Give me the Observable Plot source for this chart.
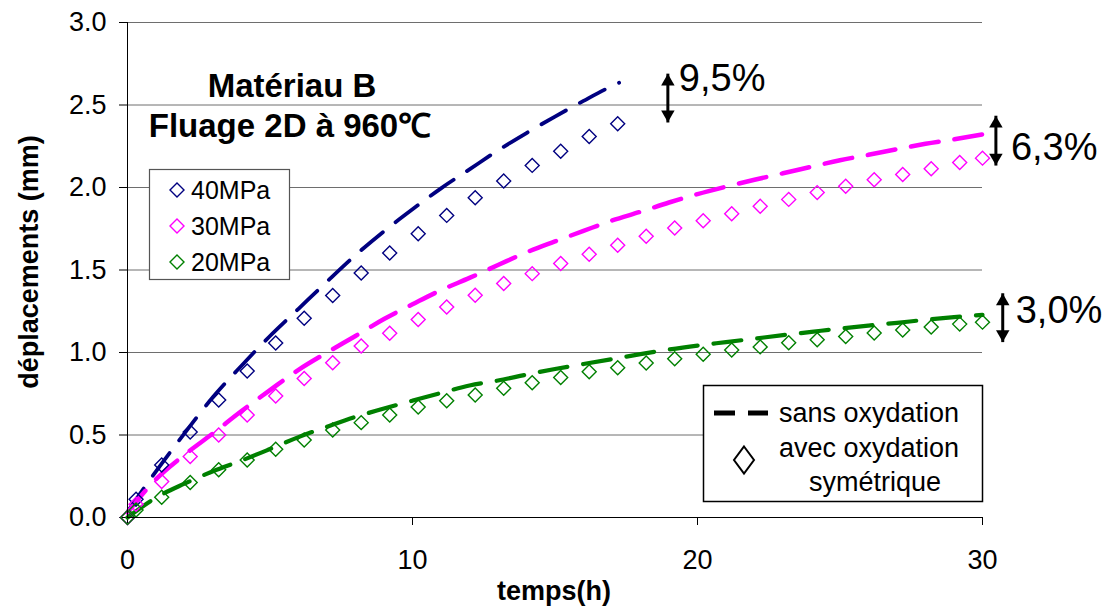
<!DOCTYPE html>
<html>
<head>
<meta charset="utf-8">
<script src="https://cdn.jsdelivr.net/npm/d3@7"></script>
<script src="https://cdn.jsdelivr.net/npm/@observablehq/plot@0.6"></script>
<style>
  body { margin: 0; background: white; }
  #chart { width: 1114px; height: 608px; }
</style>
</head>
<body>
<div id="chart"></div>
<script>
// ---------- data ----------
const seriesLabels = ["40MPa", "30MPa", "20MPa"];
const seriesColors = ["#000080", "#ff00ff", "#008000"];

// measured points (avec oxydation symétrique) — hours
const obsTime40 = [0, 0.3, 1.2, 2.2, 3.2, 4.2, 5.2, 6.2, 7.2, 8.2, 9.2, 10.2, 11.2, 12.2, 13.2, 14.2, 15.2, 16.2, 17.2];
const obs40 = [0, 0.11, 0.318, 0.518, 0.712, 0.888, 1.057, 1.208, 1.346, 1.482, 1.603, 1.720, 1.831, 1.938, 2.039, 2.134, 2.220, 2.309, 2.386];

const obsTime = [0, 0.3, 1.2, 2.2, 3.2, 4.2, 5.2, 6.2, 7.2, 8.2, 9.2, 10.2, 11.2, 12.2, 13.2, 14.2, 15.2, 16.2, 17.2, 18.2, 19.2, 20.2, 21.2, 22.2, 23.2, 24.2, 25.2, 26.2, 27.2, 28.2, 29.2, 30];
const obs30 = [0, 0.08, 0.218, 0.369, 0.500, 0.621, 0.736, 0.843, 0.938, 1.040, 1.117, 1.200, 1.276, 1.347, 1.418, 1.478, 1.539, 1.595, 1.650, 1.704, 1.754, 1.799, 1.841, 1.886, 1.928, 1.969, 2.007, 2.047, 2.079, 2.114, 2.152, 2.178];
const obs20 = [0, 0.045, 0.123, 0.212, 0.289, 0.349, 0.414, 0.470, 0.530, 0.575, 0.621, 0.670, 0.708, 0.742, 0.783, 0.817, 0.849, 0.883, 0.907, 0.936, 0.962, 0.990, 1.015, 1.034, 1.059, 1.077, 1.097, 1.118, 1.137, 1.154, 1.172, 1.184];

// model curves (sans oxydation)
const modelTime40 = [0, 1, 2, 3, 4, 5, 6, 7, 8, 9, 10, 11, 12, 13, 14, 15, 16, 17, 17.25];
const model40 = [0.035, 0.28, 0.51, 0.73, 0.92, 1.10, 1.265, 1.43, 1.59, 1.735, 1.868, 1.995, 2.11, 2.225, 2.33, 2.43, 2.525, 2.615, 2.635];
const modelTime = [0, 1, 2, 3, 4, 5, 6, 7, 8, 9, 10, 11, 12, 13, 14, 15, 16, 17, 18, 19, 20, 21, 22, 23, 24, 25, 26, 27, 28, 29, 30];
const model30 = [0.03, 0.232, 0.38, 0.51, 0.645, 0.772, 0.895, 1.0, 1.10, 1.203, 1.292, 1.378, 1.452, 1.53, 1.607, 1.673, 1.737, 1.80, 1.853, 1.909, 1.96, 2.005, 2.047, 2.086, 2.126, 2.165, 2.198, 2.232, 2.265, 2.292, 2.322];
const model20 = [0, 0.12, 0.205, 0.28, 0.345, 0.415, 0.487, 0.55, 0.61, 0.66, 0.708, 0.755, 0.80, 0.83, 0.866, 0.90, 0.93, 0.96, 0.99, 1.018, 1.042, 1.063, 1.084, 1.105, 1.125, 1.145, 1.163, 1.18, 1.198, 1.214, 1.228];

// axes
const xTicks = [0, 10, 20, 30];
const yTicks = [0, 0.5, 1.0, 1.5, 2.0, 2.5, 3.0];

// gap annotations (arrow x, arrow ends, label anchor)
const gapLabels = ["9,5%", "6,3%", "3,0%"];
const gapX = [18.96, 30.47, 30.71];
const gapTop = [2.69, 2.435, 1.359];
const gapBottom = [2.394, 2.133, 1.063];
const gapTextY = [2.661, 2.238, 1.252];
const gapTextDx = [11, 15, 13];

// texts
const titleLines = ["Matériau B", "Fluage 2D à 960℃"];
const xLabel = "temps(h)";
const yLabel = "déplacements (mm)";
const legendModel = "sans oxydation";
const legendObs = ["avec oxydation", "symétrique"];

// ---------- build tables ----------
const zip = (ts, vs) => ts.map((t, i) => ({t, v: vs[i]}));
const obsData = [zip(obsTime40, obs40), zip(obsTime, obs30), zip(obsTime, obs20)];
const modelData = [zip(modelTime40, model40), zip(modelTime, model30), zip(modelTime, model20)];
const gaps = gapLabels.map((label, i) => ({label, x: gapX[i], top: gapTop[i], bottom: gapBottom[i], ty: gapTextY[i]}));

const FONT = "'Liberation Sans', Arial, Helvetica, sans-serif";
const lineWidths = [3.8, 4.5, 4.2];

const marks = [
  Plot.ruleY(yTicks.filter(d => d > 0), {stroke: "#6e6e6e", strokeWidth: 1}),
];
modelData.forEach((d, i) => {
  marks.push(Plot.line(d, {x: "t", y: "v", stroke: seriesColors[i], strokeWidth: lineWidths[i],
    strokeDasharray: "28,16", curve: "monotone-x"}));
});
obsData.forEach((d, i) => {
  marks.push(Plot.dot(d, {x: "t", y: "v", symbol: "diamond2", r: 6.3, stroke: seriesColors[i],
    strokeWidth: 1.4, fill: "none"}));
});
marks.push(
  Plot.ruleX([0], {stroke: "black", strokeWidth: 1}),
  Plot.ruleY([0], {stroke: "black", strokeWidth: 1}),
  Plot.link(gaps, {x1: "x", x2: "x", y1: "bottom", y2: "top", stroke: "black", strokeWidth: 3, insetTop: 8, insetBottom: 8}),
  Plot.dot(gaps, {x: "x", y: "top", symbol: "triangle", r: 5, fill: "black", stroke: "none", dy: 8}),
  Plot.dot(gaps, {x: "x", y: "bottom", symbol: "triangle", r: 5, fill: "black", stroke: "none", dy: -8, rotate: 180}),
  Plot.text(gaps, {x: "x", y: "ty", text: "label", textAnchor: "start", fontSize: 38, fill: "black"})
);

const chart = Plot.plot({
  width: 1114,
  height: 608,
  marginLeft: 127,
  marginRight: 132,
  marginTop: 22,
  marginBottom: 91,
  style: {fontFamily: FONT, fontSize: "27px", color: "black", background: "white", overflow: "visible"},
  x: {domain: [0, 30], ticks: xTicks, tickSize: 8, tickPadding: 24, label: null, tickFormat: d => String(d)},
  y: {domain: [0, 3], ticks: yTicks, tickSize: 8, tickPadding: 13, label: null, tickFormat: d => d.toFixed(1)},
  marks
});
document.getElementById("chart").appendChild(chart);

// shift gap labels right of their arrows
d3.select(chart).selectAll("text").filter(function() { return gapLabels.includes(this.textContent); })
  .each(function() {
    const i = gapLabels.indexOf(this.textContent);
    d3.select(this).attr("dx", gapTextDx[i]);
  });

// ---------- overlay texts & legends ----------
const svg = d3.select(chart);
const g = svg.append("g").attr("font-family", FONT).attr("fill", "black").attr("text-anchor", "start");

// titles
g.append("text").attr("x", 292).attr("y", 97).attr("text-anchor", "middle")
  .attr("font-size", 33).attr("font-weight", "bold").text(titleLines[0]);
g.append("text").attr("x", 290).attr("y", 137).attr("text-anchor", "middle")
  .attr("font-size", 33).attr("font-weight", "bold").text(titleLines[1]);

// axis titles
g.append("text").attr("transform", "translate(38,262) rotate(-90)").attr("text-anchor", "middle")
  .attr("font-size", 27).attr("font-weight", "bold").text(yLabel);
g.append("text").attr("x", 554).attr("y", 600).attr("text-anchor", "middle")
  .attr("font-size", 27).attr("font-weight", "bold").text(xLabel);

// legend 1 (series)
g.append("rect").attr("x", 149.5).attr("y", 169.5).attr("width", 140).attr("height", 110)
  .attr("fill", "white").attr("stroke", "#555").attr("stroke-width", 1.2);
seriesLabels.forEach((lab, i) => {
  const cy = 190 + i * 36, cx = 177, h = 7;
  g.append("path").attr("d", `M${cx},${cy - h}L${cx + h},${cy}L${cx},${cy + h}L${cx - h},${cy}Z`)
    .attr("fill", "none").attr("stroke", seriesColors[i]).attr("stroke-width", 1.4);
  g.append("text").attr("x", 191).attr("y", cy).attr("dy", "0.36em").attr("text-anchor", "start")
    .attr("font-size", 25).text(lab);
});

// legend 2 (line style)
g.append("rect").attr("x", 703.5).attr("y", 385.5).attr("width", 279).attr("height", 116)
  .attr("fill", "white").attr("stroke", "black").attr("stroke-width", 1.5);
g.append("line").attr("x1", 714).attr("x2", 768).attr("y1", 413).attr("y2", 413)
  .attr("stroke", "black").attr("stroke-width", 5).attr("stroke-dasharray", "21,13");
g.append("text").attr("x", 779).attr("y", 422).attr("text-anchor", "start").attr("font-size", 27).text(legendModel);
g.append("path").attr("d", "M744,446.5L754,460L744,473.5L734,460Z")
  .attr("fill", "none").attr("stroke", "black").attr("stroke-width", 2);
g.append("text").attr("x", 779).attr("y", 457).attr("text-anchor", "start").attr("font-size", 27).text(legendObs[0]);
g.append("text").attr("x", 875).attr("y", 491).attr("text-anchor", "middle").attr("font-size", 27).text(legendObs[1]);
</script>
</body>
</html>
